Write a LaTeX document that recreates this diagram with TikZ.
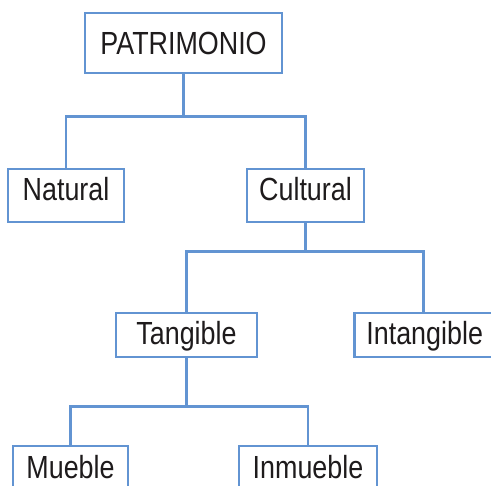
\documentclass[tikz,border=0pt]{standalone}
\usepackage{fontspec}
\setmainfont{Liberation Sans}[FakeStretch=0.84]
\definecolor{lineblue}{RGB}{98,148,210}
\definecolor{txt}{RGB}{30,27,28}
\begin{document}
\begin{tikzpicture}[x=0.75pt,y=-0.75pt,
  box/.style={draw=lineblue, line width=2.1pt, fill=white, inner sep=0pt, anchor=base,
    text=txt, font=\fontsize{24pt}{28pt}\selectfont},
  link/.style={draw=lineblue, line width=2.1pt}]
\clip (0,0) rectangle (491,485);
\useasboundingbox (0,0) rectangle (491,485);
\node[box, minimum width=197*0.75pt, text height=42*0.75pt, text depth=18*0.75pt] (pat) at (183.5,55) {PATRIMONIO};
\node[box, minimum width=116*0.75pt, text height=31*0.75pt, text depth=22*0.75pt] (nat) at (66,200) {Natural};
\node[box, minimum width=117*0.75pt, text height=31*0.75pt, text depth=22*0.75pt] (cul) at (305.5,200) {Cultural};
\node[box, minimum width=141*0.75pt, text height=31*0.75pt, text depth=13*0.75pt] (tan) at (186.5,344) {Tangible};
\node[box, text height=31*0.75pt, text depth=13*0.75pt, inner xsep=12*0.75pt, anchor=base west] (int) at (353,344) {Intangible\hspace{20pt}};
\node[box, minimum width=115*0.75pt, text height=32*0.75pt, text depth=21*0.75pt] (mue) at (70.5,478) {Mueble};
\node[box, minimum width=138*0.75pt, text height=32*0.75pt, text depth=21*0.75pt] (inm) at (308,478) {Inmueble};
\coordinate (intc) at (int.north west -| 423.5,0);
\draw[link] (pat.south) -- ++(0,42) coordinate (j1) -| (nat.north);
\draw[link] (j1) -| (cul.north);
\draw[link] (cul.south) -- ++(0,28) coordinate (j2) -| (intc);
\draw[link] (j2) -| (tan.north);
\draw[link] (tan.south) -- ++(0,48) coordinate (j3) -| (mue.north);
\draw[link] (j3) -| (inm.north);
\end{tikzpicture}
\end{document}
